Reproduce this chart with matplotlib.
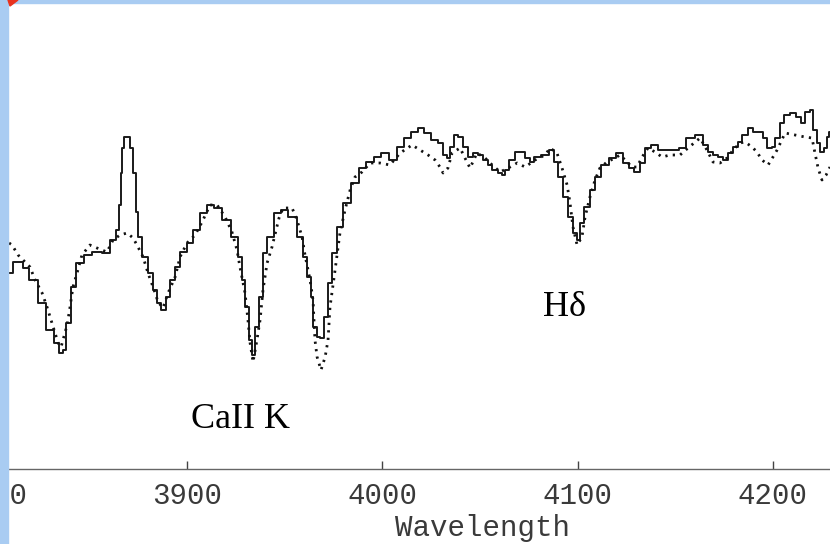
import numpy as np
import matplotlib
matplotlib.use('Agg')
import matplotlib.pyplot as plt
from matplotlib.patches import Rectangle, Polygon

# Spectrum: wavelength (Angstrom) and relative flux
wave_obs = [3808.9, 3812.4, 3814.5, 3817.1, 3821.2, 3825.8, 3829.9, 3833.4, 3835.5, 3837.0,
            3839.1, 3841.6, 3845.2, 3848.8, 3853.9, 3859.0, 3862.1, 3864.7, 3865.7, 3866.2,
            3867.2, 3868.3, 3869.8, 3871.3, 3873.4, 3873.9, 3875.9, 3878.5, 3881.1, 3883.6,
            3885.2, 3887.7, 3890.3, 3892.3, 3894.9, 3898.0, 3901.5, 3905.1, 3908.2, 3911.8,
            3915.4, 3920.5, 3924.6, 3927.1, 3928.7, 3930.7, 3932.3, 3933.8, 3935.8, 3937.4,
            3939.9, 3942.5, 3946.6, 3949.2, 3954.3, 3957.9, 3960.4, 3962.5, 3964.0, 3965.5,
            3967.1, 3969.1, 3970.7, 3973.2, 3975.3, 3978.3, 3981.9, 3986.0, 3989.6, 3993.7,
            3997.3, 4001.4, 4005.5, 4009.1, 4012.6, 4016.7, 4019.3, 4022.9, 4027.0, 4029.5,
            4032.1, 4033.6, 4035.7, 4037.2, 4039.8, 4042.3, 4044.9, 4047.5, 4050.0, 4052.6,
            4055.1, 4057.7, 4060.3, 4061.8, 4063.8, 4066.4, 4069.0, 4071.5, 4074.1, 4076.6,
            4079.2, 4083.3, 4086.9, 4088.9, 4091.0, 4093.5, 4096.1, 4098.7, 4100.2, 4102.2,
            4104.8, 4107.4, 4109.9, 4114.0, 4117.6, 4121.7, 4124.3, 4127.8, 4130.4, 4133.0,
            4136.0, 4139.6, 4142.2, 4145.8, 4149.9, 4153.4, 4157.5, 4162.7, 4165.2, 4167.8,
            4170.3, 4172.9, 4175.5, 4178.0, 4180.6, 4183.1, 4185.7, 4188.3, 4190.8, 4193.4,
            4195.9, 4198.5, 4200.0, 4202.1, 4204.6, 4207.2, 4210.3, 4212.8, 4215.4, 4217.9,
            4220.0, 4221.5, 4223.1, 4225.1, 4227.2, 4228.2, 4229.2]
flux_obs = [1.97, 2.08, 2.08, 2.02, 1.90, 1.67, 1.40, 1.27, 1.17, 1.20,
            1.47, 1.83, 2.07, 2.15, 2.18, 2.17, 2.30, 2.40, 2.65, 2.97,
            3.22, 3.33, 3.33, 3.22, 2.97, 2.58, 2.33, 2.13, 1.97, 1.80,
            1.67, 1.60, 1.73, 1.90, 2.03, 2.18, 2.27, 2.40, 2.57, 2.65,
            2.62, 2.50, 2.33, 2.13, 1.90, 1.63, 1.30, 1.15, 1.43, 1.73,
            2.17, 2.33, 2.57, 2.60, 2.53, 2.33, 2.13, 1.93, 1.73, 1.43,
            1.33, 1.32, 1.53, 1.87, 2.17, 2.43, 2.67, 2.87, 3.02, 3.08,
            3.13, 3.17, 3.10, 3.23, 3.32, 3.38, 3.42, 3.37, 3.30, 3.27,
            3.15, 3.12, 3.23, 3.35, 3.33, 3.23, 3.13, 3.17, 3.15, 3.10,
            3.05, 3.00, 2.97, 2.95, 3.00, 3.10, 3.18, 3.18, 3.12, 3.08,
            3.13, 3.15, 3.20, 3.08, 2.93, 2.73, 2.53, 2.37, 2.30, 2.47,
            2.63, 2.80, 2.93, 3.05, 3.12, 3.17, 3.07, 3.02, 2.98, 3.07,
            3.22, 3.25, 3.20, 3.20, 3.20, 3.22, 3.32, 3.35, 3.25, 3.18,
            3.15, 3.13, 3.10, 3.17, 3.23, 3.28, 3.35, 3.42, 3.38, 3.38,
            3.32, 3.22, 3.23, 3.32, 3.47, 3.55, 3.57, 3.53, 3.47, 3.58,
            3.60, 3.40, 3.27, 3.18, 3.22, 3.33, 3.38]

# Model / template spectrum (dotted)
wave_mod = [3808.9, 3810.4, 3813.5, 3817.1, 3819.6, 3822.2, 3825.8, 3828.3, 3829.9, 3832.4,
            3834.0, 3835.5, 3836.5, 3838.6, 3840.1, 3841.6, 3843.7, 3846.2, 3850.3, 3853.9,
            3859.0, 3862.1, 3865.7, 3869.3, 3872.4, 3874.9, 3877.5, 3880.0, 3882.6, 3885.2,
            3887.7, 3890.3, 3893.9, 3896.4, 3900.0, 3904.1, 3907.7, 3911.8, 3915.4, 3919.5,
            3923.0, 3925.6, 3927.1, 3929.7, 3931.2, 3932.3, 3933.8, 3935.8, 3937.4, 3938.9,
            3941.0, 3943.5, 3945.6, 3947.1, 3949.2, 3953.8, 3956.3, 3958.9, 3960.4, 3963.0,
            3964.5, 3965.5, 3966.6, 3968.6, 3970.7, 3972.2, 3973.2, 3975.8, 3978.3, 3980.9,
            3983.5, 3986.0, 3989.6, 3993.7, 3998.8, 4003.9, 4009.1, 4015.2, 4019.3, 4023.4,
            4027.0, 4029.5, 4031.1, 4033.6, 4035.7, 4039.8, 4042.3, 4044.9, 4048.5, 4052.6,
            4055.1, 4060.3, 4065.4, 4069.0, 4073.1, 4078.2, 4083.3, 4085.9, 4089.4, 4092.0,
            4094.6, 4096.1, 4097.6, 4099.7, 4102.2, 4103.8, 4106.3, 4108.9, 4111.4, 4115.0,
            4119.1, 4121.7, 4124.3, 4127.8, 4130.4, 4133.0, 4136.0, 4139.6, 4143.2, 4147.3,
            4152.4, 4156.5, 4162.7, 4166.2, 4169.3, 4172.9, 4176.5, 4179.6, 4183.1, 4185.7,
            4189.3, 4191.8, 4194.4, 4197.5, 4200.0, 4202.1, 4206.2, 4211.3, 4216.4, 4220.0,
            4221.5, 4223.1, 4225.1, 4227.2, 4229.2]
flux_mod = [2.27, 2.25, 2.15, 2.08, 2.03, 1.90, 1.77, 1.63, 1.53, 1.37,
            1.27, 1.23, 1.30, 1.45, 1.63, 1.83, 1.97, 2.15, 2.25, 2.22,
            2.18, 2.30, 2.35, 2.37, 2.32, 2.23, 2.13, 1.97, 1.83, 1.68,
            1.62, 1.77, 1.93, 2.13, 2.27, 2.35, 2.48, 2.65, 2.65, 2.53,
            2.38, 2.20, 2.03, 1.77, 1.50, 1.27, 1.08, 1.30, 1.50, 1.80,
            2.07, 2.23, 2.40, 2.52, 2.62, 2.62, 2.50, 2.33, 2.15, 1.90,
            1.70, 1.30, 1.13, 1.00, 1.13, 1.30, 1.63, 2.00, 2.37, 2.60,
            2.80, 2.93, 2.98, 3.07, 3.07, 3.05, 3.17, 3.25, 3.20, 3.15,
            3.10, 3.03, 2.97, 3.02, 3.17, 3.22, 3.12, 3.02, 3.17, 3.12,
            3.07, 2.98, 3.03, 3.07, 3.03, 3.10, 3.15, 3.22, 3.17, 3.02,
            2.85, 2.67, 2.43, 2.25, 2.33, 2.53, 2.73, 2.90, 3.02, 3.08,
            3.12, 3.15, 3.10, 3.03, 3.03, 3.13, 3.22, 3.18, 3.13, 3.15,
            3.15, 3.22, 3.32, 3.20, 3.08, 3.07, 3.12, 3.20, 3.27, 3.28,
            3.23, 3.18, 3.10, 3.05, 3.13, 3.20, 3.37, 3.35, 3.33, 3.32,
            3.17, 3.02, 2.90, 2.95, 3.03]

tick_vals = [3800, 3900, 4000, 4100, 4200]
tick_text = ['3800', '3900', '4000', '4100', '4200']

W, H = 830, 544
fig = plt.figure(figsize=(W / 100, H / 100), dpi=100)
fig.patch.set_facecolor('white')

# axes reach a bit past the left edge so the cut-off 3800 label shows as in the scan
ax = fig.add_axes([-20 / W, 75 / H, 850 / W, 469 / H])
ax.plot(wave_obs, flux_obs, color='#1a1a1a', lw=1.4, drawstyle='steps-mid')
ax.plot(wave_mod, flux_mod, color='#111111', lw=2.0, linestyle=(0, (0.8, 1.9)))

ax.set_xlim(3794.0, 4229.2)
ax.set_ylim(0.01, 4.70)
for s in ['top', 'left', 'right']:
    ax.spines[s].set_visible(False)
ax.spines['bottom'].set_color('#666666')
ax.spines['bottom'].set_linewidth(1.0)
ax.set_yticks([])
ax.set_xticks(tick_vals)
ax.set_xticklabels(tick_text, family='Liberation Mono', fontsize=21, color='#3a3a3a')
ax.tick_params(axis='x', direction='in', length=6, width=1, color='#444444', pad=9)
ax.set_xlabel('Wavelength', family='Liberation Mono', fontsize=21, color='#3a3a3a', labelpad=3)
ax.xaxis.label.set_position(((482 + 20) / 850, 0))

ax.text(3902, 0.42, 'CaII K', family='Liberation Serif', fontsize=26, va='baseline', ha='left')
ax.text(4082.3, 1.54, 'H\u03b4', family='Liberation Serif', fontsize=26, va='baseline', ha='left')

# slide frame: blue border and small red corner mark
fig.add_artist(Rectangle((0, 0), 8 / W, 1, transform=fig.transFigure,
                         color='#a9ccf2', zorder=10))
fig.add_artist(Rectangle((0, 1 - 2.5 / H), 1, 2.5 / H, transform=fig.transFigure,
                         color='#a9ccf2', zorder=10))
fig.add_artist(Polygon([(8 / W, 1), (18 / W, 1), (10 / W, 1 - 6 / H)], closed=True,
                       transform=fig.transFigure, color='#e8321e', zorder=11))

fig.savefig('out.png', dpi=100)
